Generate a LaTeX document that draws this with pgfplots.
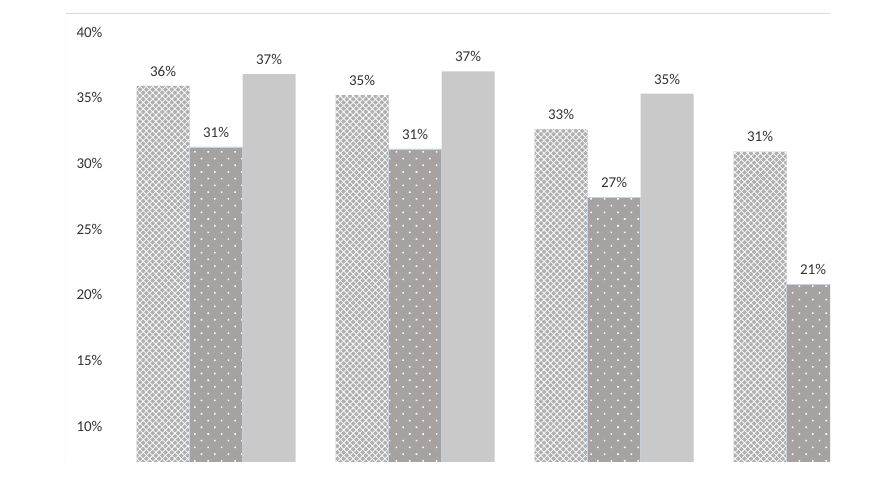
\documentclass[border=0pt]{standalone}
\usepackage{pgfplots}
\pgfplotsset{compat=1.18}
\usepackage{fontspec}
\setmainfont{Carlito}
\usetikzlibrary{patterns.meta}

\definecolor{barA}{RGB}{176,176,176}
\definecolor{barB}{RGB}{166,162,161}
\definecolor{barC}{RGB}{201,201,201}
\definecolor{edgeB}{RGB}{190,212,235}
\definecolor{frameC}{RGB}{217,217,217}
\definecolor{txt}{RGB}{50,50,50}

\begin{document}
\begin{tikzpicture}
\begin{axis}[
    width=764pt, height=448pt, scale only axis,
    xmin=-0.754, xmax=3.085,
    ymin=7.26, ymax=41.37,
    ybar=0pt, bar width=53pt,
    axis line style={draw=none},
    xtick=\empty,
    ytick={10,15,20,25,30,35,40},
    yticklabel={\pgfmathprintnumber{\tick}\%},
    yticklabel style={anchor=west, xshift=7pt, text=txt,
        font=\fontsize{15}{17}\selectfont},
    major tick length=0pt,
    /pgf/number format/assume math mode=true,
    nodes near coords={\pgfmathprintnumber[fixed,precision=0]{\pgfplotspointmeta}\%},
    nodes near coords style={text=txt, yshift=6pt,
        font=\fontsize{15}{17}\selectfont},
]
% series 1: light gray lattice
\addplot[draw=none, fill=barA,
    postaction={pattern={Lines[angle=45,distance=4.5pt,line width=0.75pt]}, pattern color=white},
    postaction={pattern={Lines[angle=-45,distance=4.5pt,line width=0.75pt]}, pattern color=white}]
    coordinates {(0,35.9) (1,35.2) (2,32.6) (3,30.9)};
% series 2: gray with white dots
\addplot[draw=edgeB, line width=0.6pt, fill=barB,
    postaction={pattern={Dots[distance=9.5pt,radius=1.1pt,angle=45]}, pattern color=white}]
    coordinates {(0,31.25) (1,31.1) (2,27.4) (3,20.8)};
% series 3: plain light gray
\addplot[draw=none, fill=barC]
    coordinates {(0,36.8) (1,37.0) (2,35.3)};

\draw[frameC, line width=1pt] (rel axis cs:0,0) -- (rel axis cs:0,1) -- (rel axis cs:1,1);
\coordinate (sw) at (rel axis cs:0,0);
\coordinate (ne) at (rel axis cs:1,1);
\end{axis}
\path[use as bounding box] ([xshift=-66pt,yshift=-19pt]sw) rectangle ([xshift=47pt,yshift=14pt]ne);
\end{tikzpicture}
\end{document}
